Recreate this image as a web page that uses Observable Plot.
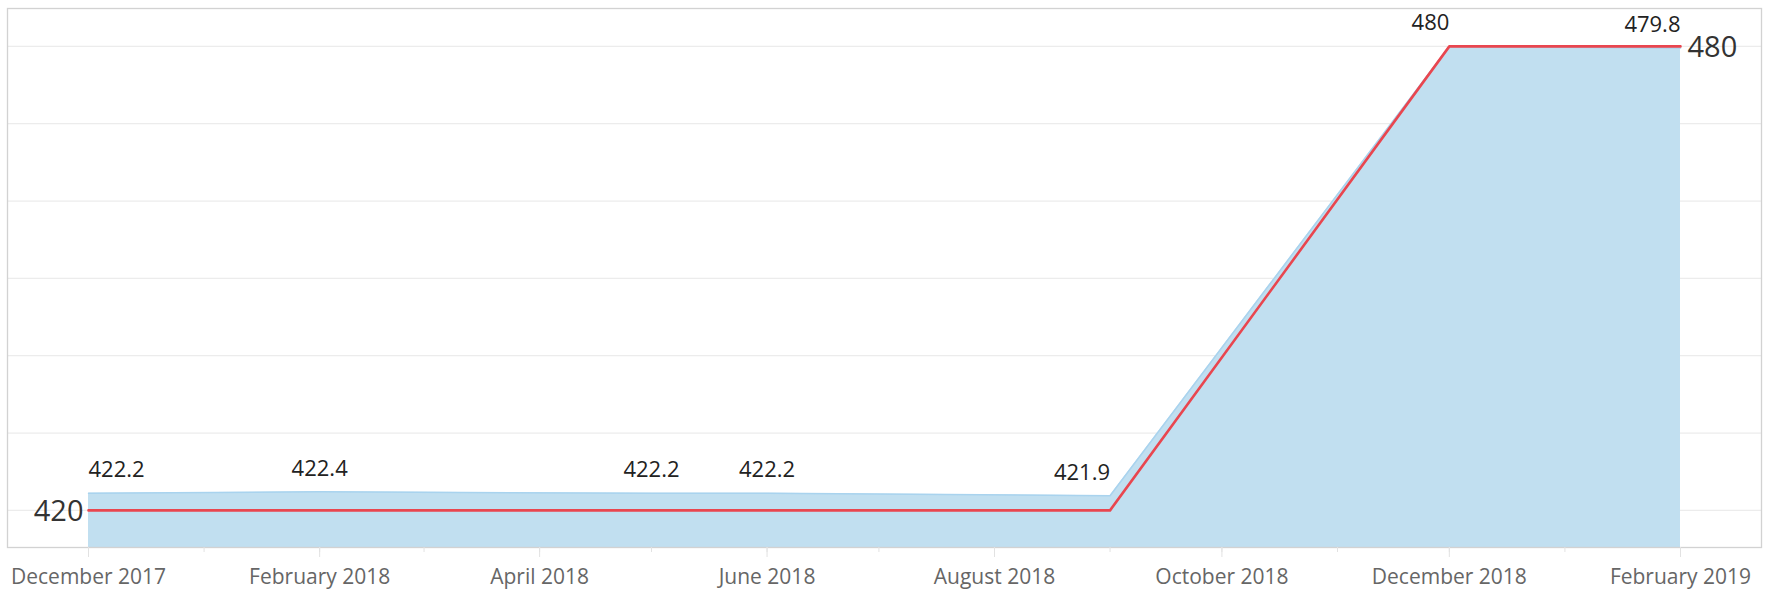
<!DOCTYPE html>
<html>
<head>
<meta charset="utf-8">
<script src="https://cdn.jsdelivr.net/npm/d3@7"></script>
<script src="https://cdn.jsdelivr.net/npm/@observablehq/plot@0.6"></script>
<style>
  html, body { margin: 0; padding: 0; background: #fff; }
  #chart svg { display: block; }
</style>
</head>
<body>
<div id="chart"></div>
<script>
// ---- data ----
const dates = ["2017-12-01", "2018-02-01", "2018-05-01", "2018-06-01", "2018-09-01", "2018-12-01", "2019-02-01"];
const actualValues = [422.2, 422.4, 422.2, 422.2, 421.9, 480, 479.8];
const targetValues = [420, 420, 420, 420, 420, 480, 480];
const tickLabelDates = ["2017-12-01", "2018-02-01", "2018-04-01", "2018-06-01", "2018-08-01", "2018-10-01", "2018-12-01", "2019-02-01"];
const yGridValues = [420, 430, 440, 450, 460, 470, 480];

// ---- build tables ----
const parse = s => new Date(s + "T00:00:00Z");
const actual = dates.map((d, i) => ({date: parse(d), value: actualValues[i], i}));
const target = dates.map((d, i) => ({date: parse(d), value: targetValues[i], i}));
const majorTicks = tickLabelDates.map(parse);
const minorTicks = d3.utcMonth.range(parse("2017-12-01"), parse("2019-02-02"));

const yDomain = [415.2, 484.9];
const xDomain = [new Date("2017-11-09T06:30:00Z"), new Date("2019-02-22T17:30:00Z")];

const n = actual.length;
const labelAnchor = i => i === 0 ? "start" : (i >= 4 ? "end" : "middle");
const font = "'Open Sans', 'Noto Sans', sans-serif";

const chart = Plot.plot({
  width: 1771,
  height: 592,
  marginLeft: 7,
  marginRight: 10,
  marginTop: 8,
  marginBottom: 45,
  style: {fontFamily: font, background: "#fff", overflow: "visible"},
  x: {type: "utc", domain: xDomain},
  y: {domain: yDomain},
  marks: [
    Plot.gridY(yGridValues, {stroke: "#ececec", strokeOpacity: 1, strokeWidth: 1.2}),
    Plot.areaY(actual, {x: "date", y1: yDomain[0], y2: "value", fill: "#c1dff0", fillOpacity: 1}),
    Plot.lineY(actual, {x: "date", y: "value", stroke: "#a9d3ee", strokeWidth: 1.5}),
    Plot.lineY(target, {x: "date", y: "value", stroke: "#e9464f", strokeWidth: 2.6}),
    Plot.frame({stroke: "#d2d2d2", strokeWidth: 1.3}),
    Plot.axisX(minorTicks, {tickSize: 5, stroke: "#e2e2e2", text: null, tickFormat: null, label: null}),
    Plot.axisX(majorTicks, {tickSize: 10, tickPadding: 12, stroke: "#e2e2e2", fill: "#666", fontSize: 21,
      tickFormat: d3.utcFormat("%B %Y"), label: null}),
    Plot.axisY({ticks: [], label: null, tickSize: 0}),
    // data labels
    ...["start", "middle", "end"].map(a =>
      Plot.text(actual.filter(d => labelAnchor(d.i) === a), {
        x: "date", y: "value", text: d => String(d.value),
        textAnchor: a, dy: -23, fontSize: 22, fill: "#222"
      })
    ),
    // big target labels at ends
    Plot.text([target[0]], {x: "date", y: "value", text: d => String(d.value), textAnchor: "end", dx: -5, dy: 1, fontSize: 29, fill: "#333"}),
    Plot.text([target[n - 1]], {x: "date", y: "value", text: d => String(d.value), textAnchor: "start", dx: 7, dy: 1, fontSize: 29, fill: "#333"})
  ]
});
document.getElementById("chart").appendChild(chart);
</script>
</body>
</html>
